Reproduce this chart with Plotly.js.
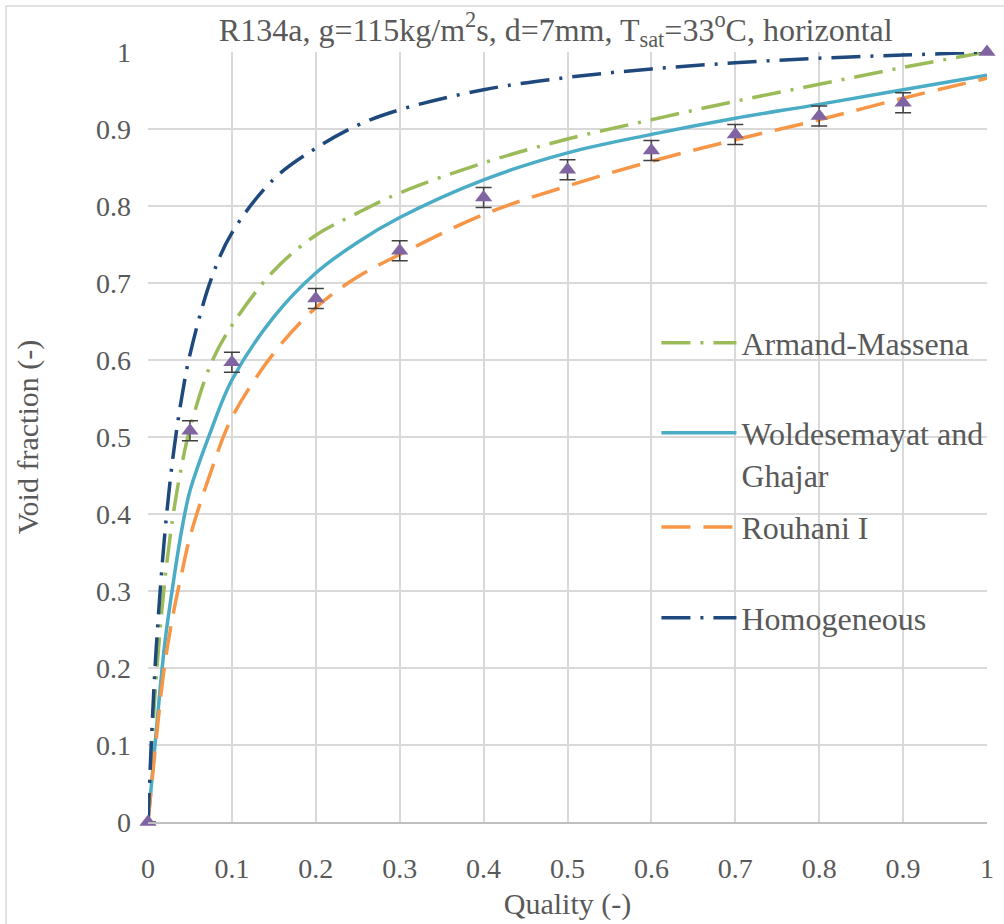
<!DOCTYPE html>
<html>
<head>
<meta charset="utf-8">
<script src="https://cdn.plot.ly/plotly-3.0.1.min.js"></script>
<style>
  html, body { margin: 0; padding: 0; background: #ffffff; }
  #chart { width: 1004px; height: 924px; }
</style>
</head>
<body>
<div id="chart"></div>
<script>
// Quality sample points
const quality = [0, 0.005, 0.01, 0.02, 0.03, 0.04, 0.05, 0.075, 0.1, 0.15, 0.2, 0.25, 0.3, 0.4, 0.5, 0.6, 0.7, 0.8, 0.9, 1];
const armandMassena = [0, 0.107, 0.191, 0.313, 0.399, 0.462, 0.511, 0.595, 0.645, 0.716, 0.762, 0.791, 0.817, 0.856, 0.887, 0.912, 0.936, 0.958, 0.980, 1.0];
const woldesemayat = [0, 0.06, 0.12, 0.232, 0.31, 0.378, 0.43, 0.508, 0.574, 0.656, 0.713, 0.753, 0.785, 0.834, 0.869, 0.893, 0.914, 0.932, 0.951, 0.970];
const rouhani = [0, 0.055, 0.11, 0.205, 0.27, 0.322, 0.37, 0.455, 0.525, 0.609, 0.668, 0.708, 0.737, 0.789, 0.826, 0.858, 0.886, 0.912, 0.940, 0.966];
const homogeneous = [0, 0.128, 0.229, 0.374, 0.476, 0.55, 0.607, 0.704, 0.765, 0.835, 0.875, 0.905, 0.925, 0.951, 0.967, 0.978, 0.986, 0.992, 0.996, 1.0];

// Experimental points
const expQuality = [0, 0.05, 0.1, 0.2, 0.3, 0.4, 0.5, 0.6, 0.7, 0.8, 0.9, 1];
const expVoid = [0, 0.508, 0.597, 0.680, 0.742, 0.811, 0.847, 0.872, 0.893, 0.917, 0.934, 1.0];
const expErr = [null, 0.013, 0.013, 0.013, 0.013, 0.013, 0.013, 0.013, 0.013, 0.013, 0.013, null];

const seriesNames = ['Armand-Massena', 'Woldesemayat and<br>Ghajar', 'Rouhani I', 'Homogeneous'];
const tickVals = [0, 0.1, 0.2, 0.3, 0.4, 0.5, 0.6, 0.7, 0.8, 0.9, 1];
const tickText = ['0', '0.1', '0.2', '0.3', '0.4', '0.5', '0.6', '0.7', '0.8', '0.9', '1'];

const FONT = 'Liberation Serif';
const TXT = '#595959';

const lineW = 3.5;
const traces = [
  { x: quality, y: armandMassena, name: seriesNames[0], mode: 'lines', legend: 'legend',
    line: { color: '#9BBB59', width: lineW, dash: '29px,10px,3px,10px', shape: 'spline', smoothing: 1 } },
  { x: quality, y: woldesemayat, name: seriesNames[1], mode: 'lines', legend: 'legend2',
    line: { color: '#4BACC6', width: lineW, shape: 'spline', smoothing: 1 } },
  { x: quality, y: rouhani, name: seriesNames[2], mode: 'lines', legend: 'legend3',
    line: { color: '#F79646', width: lineW, dash: '29px,13px', shape: 'spline', smoothing: 1 } },
  { x: quality, y: homogeneous, name: seriesNames[3], mode: 'lines', legend: 'legend4',
    line: { color: '#1F497D', width: lineW, dash: '29px,10px,3px,10px', shape: 'spline', smoothing: 1 } },
  { x: expQuality, y: expVoid, name: 'Experimental', mode: 'markers', showlegend: false, cliponaxis: false,
    marker: { symbol: 'triangle-up', size: 15, color: '#8064A2' },
    error_y: { type: 'data', array: expErr, visible: true, color: '#404040', thickness: 1.5, width: 8 } }
];

const legendBase = {
  x: 0.606, xanchor: 'left', yanchor: 'middle',
  bgcolor: 'rgba(0,0,0,0)', borderwidth: 0,
  font: { family: FONT, size: 32, color: TXT },
  itemwidth: 75, valign: 'top', tracegroupgap: 0
};

const layout = {
  width: 1004, height: 924,
  paper_bgcolor: '#ffffff', plot_bgcolor: '#ffffff',
  margin: { l: 148, r: 17, t: 52, b: 102 },
  font: { family: FONT, color: TXT },
  title: {
    text: 'R134a, g=115kg/m<sup>2</sup>s, d=7mm, T<sub>sat</sub>=33<sup>o</sup>C, horizontal',
    font: { family: FONT, size: 32, color: TXT },
    x: 0.486, xref: 'paper', xanchor: 'center',
    y: 0.968, yref: 'container', yanchor: 'middle'
  },
  xaxis: {
    range: [0, 1], tickvals: tickVals, ticktext: tickText,
    showgrid: true, gridcolor: '#d9d9d9', gridwidth: 2,
    zeroline: false, showline: true, linecolor: '#bfbfbf', linewidth: 2,
    ticks: '', ticklabelstandoff: 20,
    tickfont: { family: FONT, size: 28, color: TXT },
    title: { text: 'Quality (-)', font: { family: FONT, size: 30, color: TXT }, standoff: 10 }
  },
  yaxis: {
    range: [0, 1], tickvals: tickVals, ticktext: tickText,
    showgrid: true, gridcolor: '#d9d9d9', gridwidth: 2,
    zeroline: false, showline: false,
    ticks: '', ticklabelstandoff: 16,
    tickfont: { family: FONT, size: 28, color: TXT },
    title: { text: 'Void fraction (-)', font: { family: FONT, size: 30, color: TXT }, standoff: 48 }
  },
  legend: Object.assign({}, legendBase, { y: 0.622 }),
  legend2: Object.assign({}, legendBase, { y: 0.478 }),
  legend3: Object.assign({}, legendBase, { y: 0.383 }),
  legend4: Object.assign({}, legendBase, { y: 0.265 }),
  shapes: [
    { type: 'rect', xref: 'paper', yref: 'paper', x0: -0.1692, x1: 1.2, y0: -0.3, y1: 1.0597,
      line: { color: '#d9d9d9', width: 1.5 }, fillcolor: 'rgba(0,0,0,0)', layer: 'below' }
  ],
  showlegend: true
};

Plotly.newPlot('chart', traces, layout, { displayModeBar: false, staticPlot: true });
</script>
</body>
</html>
